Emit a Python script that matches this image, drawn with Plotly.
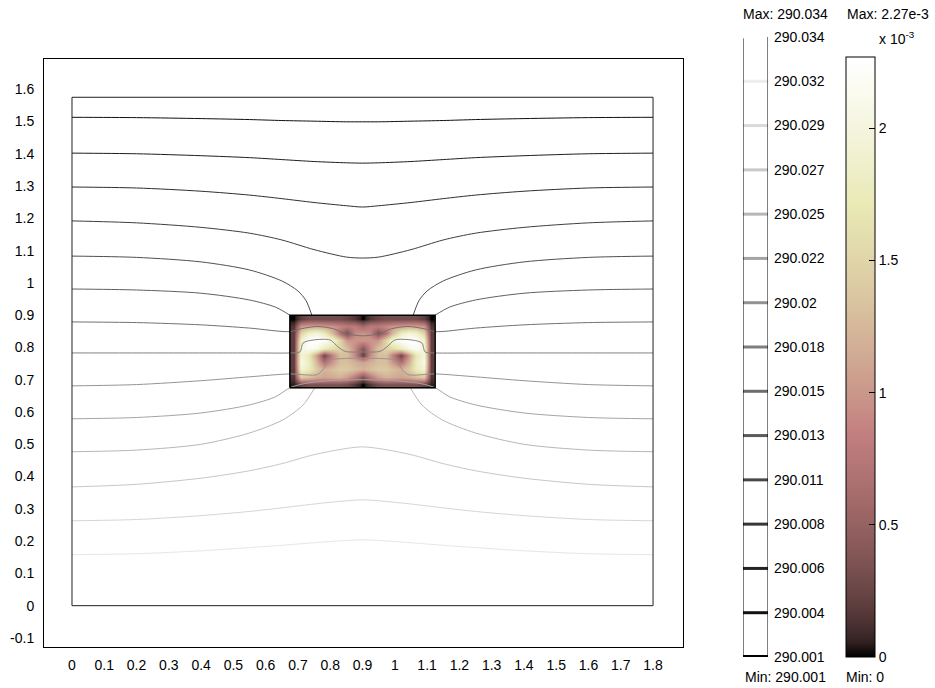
import plotly.graph_objects as go
import numpy as np

W, H = 935, 688

# ---------------- data ----------------
x_ticks = [0, 0.1, 0.2, 0.3, 0.4, 0.5, 0.6, 0.7, 0.8, 0.9, 1.0, 1.1, 1.2, 1.3, 1.4, 1.5, 1.6, 1.7, 1.8]
x_tick_labels = ["0", "0.1", "0.2", "0.3", "0.4", "0.5", "0.6", "0.7", "0.8", "0.9", "1",
                 "1.1", "1.2", "1.3", "1.4", "1.5", "1.6", "1.7", "1.8"]
y_ticks = [-0.1, 0, 0.1, 0.2, 0.3, 0.4, 0.5, 0.6, 0.7, 0.8, 0.9, 1.0, 1.1, 1.2, 1.3, 1.4, 1.5, 1.6]
y_tick_labels = ["-0.1", "0", "0.1", "0.2", "0.3", "0.4", "0.5", "0.6", "0.7", "0.8", "0.9", "1",
                 "1.1", "1.2", "1.3", "1.4", "1.5", "1.6"]

# geometry outlines
geom_x = [0, 1.8, 1.8, 0, 0]
geom_y = [0, 0, 1.575, 1.575, 0]
box_x = [0.675, 1.125, 1.125, 0.675, 0.675]
box_y = [0.675, 0.675, 0.9, 0.9, 0.675]

# surface values inside the box (units of 1e-3), cell centres filling the box
heat_x = [0.6868, 0.7105, 0.7342, 0.7579, 0.7816, 0.8053, 0.8289, 0.8526, 0.8763, 0.9,
          0.9237, 0.9474, 0.9711, 0.9947, 1.0184, 1.0421, 1.0658, 1.0895, 1.1132]
heat_y = [0.6863, 0.7088, 0.7313, 0.7538, 0.7763, 0.7988, 0.8213, 0.8438, 0.8663, 0.8888]
heat_z = [
    [0.05, 0.25, 0.35, 0.35, 0.35, 0.35, 0.35, 0.3, 0.15, 0.0, 0.15, 0.3, 0.35, 0.35, 0.35, 0.35, 0.35, 0.25, 0.05],
    [0.15, 1.4, 1.3, 1.15, 1.1, 1.15, 1.2, 1.05, 0.75, 0.35, 0.75, 1.05, 1.2, 1.15, 1.1, 1.15, 1.3, 1.4, 0.15],
    [0.2, 1.95, 1.75, 1.4, 1.2, 1.3, 1.4, 1.4, 1.3, 1.2, 1.3, 1.4, 1.4, 1.3, 1.2, 1.4, 1.75, 1.95, 0.2],
    [0.2, 2.1, 1.8, 1.2, 0.7, 1.0, 1.3, 1.3, 1.2, 1.1, 1.2, 1.3, 1.3, 1.0, 0.7, 1.2, 1.8, 2.1, 0.2],
    [0.2, 2.0, 1.7, 1.0, 0.25, 0.8, 1.3, 1.3, 0.9, 0.2, 0.9, 1.3, 1.3, 0.8, 0.25, 1.0, 1.7, 2.0, 0.2],
    [0.2, 2.0, 2.2, 2.1, 1.8, 1.6, 1.5, 1.3, 0.9, 0.4, 0.9, 1.3, 1.5, 1.6, 1.8, 2.1, 2.2, 2.0, 0.2],
    [0.2, 1.9, 2.25, 2.27, 2.2, 2.0, 1.5, 1.0, 1.0, 1.0, 1.0, 1.0, 1.5, 2.0, 2.2, 2.27, 2.25, 1.9, 0.2],
    [0.2, 1.5, 1.9, 2.0, 1.8, 1.3, 0.7, 0.3, 0.9, 1.0, 0.9, 0.3, 0.7, 1.3, 1.8, 2.0, 1.9, 1.5, 0.2],
    [0.15, 1.0, 1.1, 1.1, 1.05, 1.0, 0.9, 0.8, 0.8, 0.6, 0.8, 0.8, 0.9, 1.0, 1.05, 1.1, 1.1, 1.0, 0.15],
    [0.0, 0.2, 0.3, 0.3, 0.3, 0.3, 0.3, 0.25, 0.15, 0.0, 0.15, 0.25, 0.3, 0.3, 0.3, 0.3, 0.3, 0.2, 0.0],
]
heat_min, heat_max = 0.0, 2.27
heat_ticks = [0, 0.5, 1, 1.5, 2]

# isotherm lines, top to bottom
dip_x = [0, 0.2, 0.4, 0.55, 0.65, 0.75, 0.85, 0.9, 0.95, 1.05, 1.15, 1.25, 1.4, 1.6, 1.8]
iso_x = [
    dip_x,
    dip_x,
    dip_x,
    dip_x,
    [0, 0.2, 0.4, 0.55, 0.65, 0.7, 0.725, 0.743, None, 1.057, 1.075, 1.1, 1.15, 1.25, 1.4, 1.6, 1.8],
    [0, 0.2, 0.4, 0.55, 0.63, 0.675, None, 1.125, 1.17, 1.25, 1.4, 1.6, 1.8],
    [0, 0.2, 0.4, 0.55, 0.675, 0.71, 0.76, 0.81, 0.85, 0.9, 0.95, 0.99, 1.04, 1.09, 1.125, 1.25, 1.4, 1.6, 1.8],
    [0, 0.3, 0.55, 0.675, 0.706, 0.716, 0.747, 0.8, 0.824, 0.846, 0.9, 0.954, 0.976, 1.0, 1.053, 1.084, 1.094, 1.125, 1.25, 1.5, 1.8],
    [0, 0.2, 0.4, 0.55, 0.675, 0.76, 0.78, 0.8, 0.85, 0.9, 0.95, 1.0, 1.02, 1.04, 1.125, 1.25, 1.4, 1.6, 1.8],
    [0, 0.2, 0.4, 0.55, 0.63, 0.675, 0.72, 0.8, 0.9, 1.0, 1.08, 1.125, 1.17, 1.25, 1.4, 1.6, 1.8],
    [0, 0.2, 0.4, 0.55, 0.654, 0.716, 0.752, None, 1.048, 1.084, 1.146, 1.25, 1.4, 1.6, 1.8],
    dip_x,
    dip_x,
    dip_x,
]
iso_y = [
    [1.513, 1.512, 1.509, 1.506, 1.503, 1.501, 1.499, 1.499, 1.499, 1.501, 1.503, 1.506, 1.509, 1.512, 1.513],
    [1.402, 1.400, 1.394, 1.388, 1.382, 1.376, 1.372, 1.371, 1.372, 1.376, 1.382, 1.388, 1.394, 1.400, 1.402],
    [1.297, 1.294, 1.284, 1.272, 1.261, 1.249, 1.239, 1.235, 1.239, 1.249, 1.261, 1.272, 1.284, 1.294, 1.297],
    [1.192, 1.186, 1.172, 1.154, 1.133, 1.103, 1.080, 1.077, 1.080, 1.103, 1.133, 1.154, 1.172, 1.186, 1.192],
    [1.083, 1.079, 1.065, 1.040, 1.006, 0.975, 0.945, 0.900, None, 0.900, 0.945, 0.975, 1.006, 1.040, 1.065, 1.079, 1.083],
    [0.981, 0.978, 0.968, 0.947, 0.925, 0.900, None, 0.900, 0.925, 0.947, 0.968, 0.978, 0.981],
    [0.879, 0.877, 0.870, 0.860, 0.849, 0.858, 0.865, 0.858, 0.842, 0.836, 0.842, 0.858, 0.865, 0.858, 0.849, 0.860, 0.870, 0.877, 0.879],
    [0.783, 0.783, 0.783, 0.783, 0.786, 0.814, 0.823, 0.823, 0.802, 0.788, 0.786, 0.788, 0.802, 0.823, 0.823, 0.814, 0.786, 0.783, 0.783, 0.783, 0.783],
    [0.681, 0.685, 0.697, 0.709, 0.718, 0.716, 0.735, 0.760, 0.766, 0.766, 0.766, 0.760, 0.735, 0.716, 0.718, 0.709, 0.697, 0.685, 0.681],
    [0.579, 0.583, 0.597, 0.622, 0.647, 0.675, 0.688, 0.697, 0.700, 0.697, 0.688, 0.675, 0.647, 0.622, 0.597, 0.583, 0.579],
    [0.477, 0.482, 0.500, 0.535, 0.576, 0.622, 0.675, None, 0.675, 0.622, 0.576, 0.535, 0.500, 0.482, 0.477],
    [0.368, 0.376, 0.395, 0.418, 0.440, 0.468, 0.487, 0.492, 0.487, 0.468, 0.440, 0.418, 0.395, 0.376, 0.368],
    [0.263, 0.267, 0.279, 0.292, 0.303, 0.315, 0.325, 0.328, 0.325, 0.315, 0.303, 0.292, 0.279, 0.267, 0.263],
    [0.158, 0.161, 0.170, 0.180, 0.187, 0.195, 0.202, 0.204, 0.202, 0.195, 0.187, 0.180, 0.170, 0.161, 0.158],
]
iso_colors = ["#101010", "#1e1e1e", "#2e2e2e", "#3e3e3e", "#505050", "#606060", "#727272",
              "#828282", "#949494", "#a4a4a4", "#b6b6b6", "#c6c6c6", "#d6d6d6", "#e6e6e6"]

# contour legend levels
level_labels = ["290.001", "290.004", "290.006", "290.008", "290.011", "290.013", "290.015",
                "290.018", "290.02", "290.022", "290.025", "290.027", "290.029", "290.032", "290.034"]
level_colors = ["#000000", "#121212", "#242424", "#373737", "#494949", "#5b5b5b", "#6d6d6d",
                "#7f7f7f", "#929292", "#a4a4a4", "#b6b6b6", "#c8c8c8", "#dadada", "#ededed", "#ffffff"]
temp_max_text = "Max: 290.034"
temp_min_text = "Min: 290.001"
heat_max_text = "Max: 2.27e-3"
heat_min_text = "Min: 0"

# ---------------- style helpers ----------------
FONT = "Liberation Sans, Arial, sans-serif"


def pink(t):
    r = min(1.0, t / 0.375)
    g = min(1.0, max(0.0, (t - 0.375) / 0.375))
    b = min(1.0, max(0.0, (t - 0.75) / 0.25))
    c = [np.sqrt((2 * t + v) / 3) for v in (r, g, b)]
    return "rgb(%d,%d,%d)" % tuple(int(round(255 * v)) for v in c)


pink_scale = [[i / 40, pink(i / 40)] for i in range(41)]


def px(x):
    return x / W


def py(y):
    return 1 - y / H


fig = go.Figure()

# surface plot in the box
fig.add_trace(go.Heatmap(
    x=heat_x, y=heat_y, z=heat_z, zmin=heat_min, zmax=heat_max,
    colorscale=pink_scale, zsmooth="best", hoverinfo="skip",
    colorbar=dict(
        x=px(846), xanchor="left", y=py(657), yanchor="bottom",
        thickness=29, thicknessmode="pixels", len=600, lenmode="pixels",
        xpad=0, ypad=0, outlinewidth=1, outlinecolor="black",
        tickvals=heat_ticks, ticktext=["0", "0.5", "1", "1.5", "2"],
        ticks="inside", ticklen=6, tickcolor="black", tickwidth=1,
        tickfont=dict(family=FONT, size=14, color="black"),
    ),
))

# isotherms
for xs, ys, col in zip(iso_x, iso_y, iso_colors):
    fig.add_trace(go.Scatter(x=xs, y=ys, mode="lines",
                             line=dict(color=col, width=1, shape="spline", smoothing=0.8),
                             hoverinfo="skip", showlegend=False, connectgaps=False))

# outlines
fig.add_trace(go.Scatter(x=box_x, y=box_y, mode="lines", line=dict(color="black", width=1.5),
                         hoverinfo="skip", showlegend=False))
fig.add_trace(go.Scatter(x=geom_x, y=geom_y, mode="lines", line=dict(color="#202020", width=1),
                         hoverinfo="skip", showlegend=False))

# contour legend
n_lev = len(level_labels)
for k, col in enumerate(level_colors):
    fig.add_trace(go.Scatter(x=[0, 1], y=[k, k], mode="lines", xaxis="x2", yaxis="y2",
                             line=dict(color=col, width=4 if k == 0 else 3),
                             hoverinfo="skip", showlegend=False, cliponaxis=False))
fig.add_trace(go.Scatter(x=[0, 0, None, 1, 1], y=[0, n_lev - 1 - 0.03, None, 0, n_lev - 1],
                         mode="lines", xaxis="x2", yaxis="y2",
                         line=dict(color="black", width=1), hoverinfo="skip",
                         showlegend=False, cliponaxis=False))

axis_font = dict(family=FONT, size=14, color="black")
fig.update_layout(
    width=W, height=H, margin=dict(l=0, r=0, t=0, b=0, autoexpand=False),
    paper_bgcolor="white", plot_bgcolor="white", showlegend=False,
    xaxis=dict(domain=[px(44), px(683)], range=[-0.0867, 1.8928], showgrid=False, zeroline=False,
               showline=True, mirror=True, linecolor="black", linewidth=1,
               tickvals=x_ticks, ticktext=x_tick_labels, ticks="", tickfont=axis_font,
               ticklabelstandoff=5, automargin=False),
    yaxis=dict(domain=[py(647), py(59)], range=[-0.128, 1.6936], showgrid=False, zeroline=False,
               showline=True, mirror=True, linecolor="black", linewidth=1,
               tickvals=y_ticks, ticktext=y_tick_labels, ticks="", tickfont=axis_font,
               ticklabelstandoff=6, automargin=False),
    xaxis2=dict(domain=[px(743), px(768)], range=[0, 1], visible=False, anchor="y2"),
    yaxis2=dict(domain=[py(657), py(37)], range=[0, n_lev - 1], anchor="x2", side="right",
                showgrid=False, zeroline=False, showline=False, ticks="",
                tickvals=list(range(n_lev)), ticktext=level_labels, tickfont=axis_font,
                ticklabelstandoff=5, automargin=False),
    annotations=[
        dict(text=temp_max_text, x=px(785), y=py(14), xref="paper", yref="paper",
             showarrow=False, font=axis_font, xanchor="center", yanchor="middle"),
        dict(text=temp_min_text, x=px(785), y=py(677), xref="paper", yref="paper",
             showarrow=False, font=axis_font, xanchor="center", yanchor="middle"),
        dict(text=heat_max_text, x=px(888), y=py(14), xref="paper", yref="paper",
             showarrow=False, font=axis_font, xanchor="center", yanchor="middle"),
        dict(text=heat_min_text, x=px(865), y=py(677), xref="paper", yref="paper",
             showarrow=False, font=axis_font, xanchor="center", yanchor="middle"),
        dict(text="x 10<sup>-3</sup>", x=px(897), y=py(38), xref="paper", yref="paper",
             showarrow=False, font=axis_font, xanchor="center", yanchor="middle"),
    ],
)

fig.write_html("out.html")
